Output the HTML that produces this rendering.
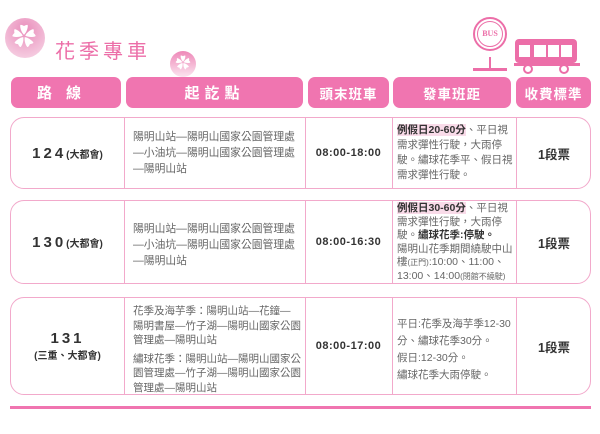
<!DOCTYPE html>
<html><head><meta charset="utf-8"><style>
*{margin:0;padding:0;box-sizing:border-box}
body{width:600px;height:434px;background:#fff;position:relative;overflow:hidden;font-family:"Liberation Sans","Noto Sans CJK TC",sans-serif}
.a{position:absolute}
.h{position:absolute;top:77px;height:31px;background:#f075b0;border-radius:7px;color:#fff;font-weight:bold;font-size:15px;display:flex;align-items:center;justify-content:center;letter-spacing:1px}
.row{position:absolute;left:10px;width:581px;border:1.3px solid #f2a9cb;border-radius:14px}
.d{position:absolute;top:0;bottom:0;width:1px;background:#f2a9cb}
.c{position:absolute;display:flex;align-items:center;justify-content:center;top:0;bottom:0}
.route{font-size:10.8px;color:#666;line-height:16px;left:122px;width:170px;display:block}
.time{font-size:11px;font-weight:bold;color:#333;letter-spacing:.5px}
.fee{font-size:12.5px;font-weight:bold;color:#333}
.freq{font-size:10.5px;color:#666;line-height:15px;white-space:nowrap}
b.hl{background:#f9dbe9;color:#333}
</style></head><body>
<div class="a" style="left:5px;top:18px;width:40px;height:40px;border-radius:50%;background:radial-gradient(circle at 50% 30%,#e98dbb,#f8dbe9);"></div>
<div class="a" style="left:12px;top:24px;color:#fff;font-size:24px;line-height:28px">✿</div>
<div class="a" style="left:55px;top:35px;color:#ec6ea8;font-size:20px;letter-spacing:4px">花季專車</div>
<div class="a" style="left:170px;top:51px;width:26px;height:26px;border-radius:50%;background:linear-gradient(#ee88b8,#fbe4ef);color:#fff;font-size:15px;text-align:center;line-height:26px">✿</div>
<div class="a" style="left:473px;top:17px;width:34px;height:34px;border-radius:50%;border:2px solid #ec6ea8;"></div>
<div class="a" style="left:477px;top:21px;width:26px;height:26px;border-radius:50%;border:1px solid #ec6ea8;font:bold 8px 'Liberation Serif',serif;color:#ec6ea8;text-align:center;line-height:24px">BUS</div>
<div class="a" style="left:489px;top:57px;width:2px;height:11px;background:#ec6ea8"></div>
<div class="a" style="left:473px;top:68px;width:34px;height:3px;background:#ec6ea8"></div>
<div class="a" style="left:515px;top:39px;width:62px;height:24px;background:#ec6ea8;border-radius:4px"></div>
<div class="a" style="left:519px;top:45px;width:11px;height:12px;background:#fff"></div>
<div class="a" style="left:534px;top:45px;width:38px;height:12px;background:#fff"></div>
<div class="a" style="left:546px;top:45px;width:2px;height:12px;background:#ec6ea8"></div>
<div class="a" style="left:559px;top:45px;width:2px;height:12px;background:#ec6ea8"></div>
<div class="a" style="left:514px;top:63px;width:66px;height:3px;background:#ec6ea8"></div>
<div class="a" style="left:523px;top:64px;width:10px;height:10px;border-radius:50%;background:#fff;border:2px solid #ec6ea8"></div>
<div class="a" style="left:559px;top:64px;width:10px;height:10px;border-radius:50%;background:#fff;border:2px solid #ec6ea8"></div>

<div class="h" style="left:11px;width:110px;letter-spacing:14px">路線</div>
<div class="h" style="left:126px;width:177px;letter-spacing:5px">起訖點</div>
<div class="h" style="left:308px;width:81px;font-size:13.5px">頭末班車</div>
<div class="h" style="left:393px;width:118px;font-size:13.5px">發車班距</div>
<div class="h" style="left:516px;width:75px;font-size:13.5px">收費標準</div>

<div class="row" style="top:117px;height:72px">
<div class="d" style="left:113px"></div><div class="d" style="left:294px"></div><div class="d" style="left:381px"></div><div class="d" style="left:505px"></div>
<div class="c" style="left:0;width:113px"><span style="font-size:15px;font-weight:bold;letter-spacing:3px;color:#333">124</span><span style="font-size:10px;font-weight:bold;color:#333">(大都會)</span></div>
<div class="c route" style="top:11px">陽明山站—陽明山國家公園管理處<br>—小油坑—陽明山國家公園管理處<br>—陽明山站</div>
<div class="c time" style="left:294px;width:87px">08:00-18:00</div>
<div class="c freq" style="left:386px;width:116px;display:block;top:5px">
<b class="hl">例假日20-60分</b>、平日視<br>需求彈性行駛，大雨停<br>駛。繡球花季平、假日視<br>需求彈性行駛。</div>
<div class="c fee" style="left:505px;width:76px">1段票</div>
</div>

<div class="row" style="top:200px;height:84px">
<div class="d" style="left:113px"></div><div class="d" style="left:294px"></div><div class="d" style="left:381px"></div><div class="d" style="left:505px"></div>
<div class="c" style="left:0;width:113px"><span style="font-size:15px;font-weight:bold;letter-spacing:3px;color:#333">130</span><span style="font-size:10px;font-weight:bold;color:#333">(大都會)</span></div>
<div class="c route" style="top:20px">陽明山站—陽明山國家公園管理處<br>—小油坑—陽明山國家公園管理處<br>—陽明山站</div>
<div class="c time" style="left:294px;width:87px">08:00-16:30</div>
<div class="c freq" style="left:386px;width:116px;display:block;top:1px;line-height:13.5px">
<b class="hl">例假日30-60分</b>、平日視<br>需求彈性行駛，大雨停<br>駛。<b style="color:#333">繡球花季:停駛。</b><br>陽明山花季期間繞駛中山<br>樓<span style="font-size:8px">(正門)</span>:10:00、11:00、<br>13:00、14:00<span style="font-size:8px">(閉館不繞駛)</span></div>
<div class="c fee" style="left:505px;width:76px">1段票</div>
</div>

<div class="row" style="top:297px;height:98px">
<div class="d" style="left:113px"></div><div class="d" style="left:294px"></div><div class="d" style="left:381px"></div><div class="d" style="left:505px"></div>
<div class="c" style="left:0;width:113px;flex-direction:column"><span style="font-size:15px;font-weight:bold;letter-spacing:3px;color:#333">131</span><span style="font-size:10px;font-weight:bold;color:#333">(三重、大都會)</span></div>
<div class="c route" style="top:6px;line-height:14.5px;font-size:10.5px">花季及海芋季：陽明山站—花鐘—<br>陽明書屋—竹子湖—陽明山國家公園<br>管理處—陽明山站<div style="height:4px"></div>繡球花季：陽明山站—陽明山國家公<br>園管理處—竹子湖—陽明山國家公園<br>管理處—陽明山站</div>
<div class="c time" style="left:294px;width:87px">08:00-17:00</div>
<div class="c freq" style="left:386px;width:118px;display:block;top:18px;line-height:17px">平日:花季及海芋季12-30<br>分、繡球花季30分。<br>假日:12-30分。<br>繡球花季大雨停駛。</div>
<div class="c fee" style="left:505px;width:76px">1段票</div>
</div>

<div class="a" style="left:10px;top:406px;width:581px;height:3px;background:#f075b0"></div>
</body></html>
